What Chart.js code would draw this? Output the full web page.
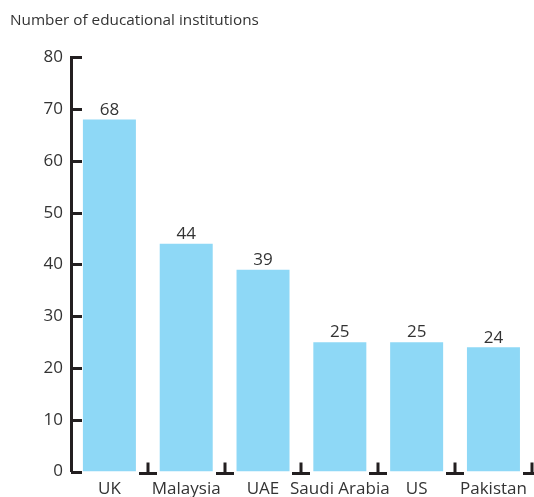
<!DOCTYPE html>
<html>
<head>
<meta charset="utf-8">
<script src="https://cdn.jsdelivr.net/npm/chart.js@4"></script>
<style>
  html, body { margin: 0; padding: 0; background: #fff; }
  #wrap { width: 534px; height: 497px; }
</style>
</head>
<body>
<div id="wrap"><canvas id="barChart" width="534" height="497"></canvas></div>
<script>
const countries = ['UK', 'Malaysia', 'UAE', 'Saudi Arabia', 'US', 'Pakistan'];
const institutions = [68, 44, 39, 25, 25, 24];
const yTicks = [0, 10, 20, 30, 40, 50, 60, 70, 80];

const ink = '#231f20';
const textColor = '#333333';

// tick marks drawn inward on y, and the small ⊥ marks between bars
const axisMarks = {
  id: 'axisMarks',
  afterDatasetsDraw(chart) {
    const ctx = chart.ctx;
    const area = chart.chartArea;
    const y = chart.scales.y;
    const x = chart.scales.x;
    ctx.save();
    ctx.strokeStyle = ink;
    ctx.lineWidth = 3;
    yTicks.forEach(v => {
      const py = Math.round(y.getPixelForValue(v)) + 0.5;
      ctx.beginPath();
      ctx.moveTo(area.left, py);
      ctx.lineTo(area.left + 11, py);
      ctx.stroke();
    });
    const base = Math.round(y.getPixelForValue(0)) + 1.5;
    for (let i = 1; i <= countries.length; i++) {
      const px = Math.round(x.getPixelForValue(i - 0.5));
      ctx.beginPath();
      ctx.moveTo(px - 9, base);
      ctx.lineTo(px + 9, base);
      ctx.moveTo(px, base);
      ctx.lineTo(px, base - 11);
      ctx.stroke();
    }
    // values above bars
    ctx.fillStyle = textColor;
    ctx.font = '17px "Open Sans", sans-serif';
    ctx.textAlign = 'center';
    ctx.textBaseline = 'bottom';
    chart.getDatasetMeta(0).data.forEach((bar, i) => {
      ctx.fillText(String(institutions[i]), bar.x, bar.y - 1);
    });
    ctx.restore();
  }
};

new Chart(document.getElementById('barChart').getContext('2d'), {
  type: 'bar',
  data: {
    labels: countries,
    datasets: [{
      label: 'Number of educational institutions',
      data: institutions,
      backgroundColor: '#8ed8f6',
      borderWidth: 0,
      barPercentage: 0.69,
      categoryPercentage: 1
    }]
  },
  options: {
    responsive: false,
    animation: false,
    layout: { padding: { left: 10, right: 1, top: 11, bottom: -9 } },
    plugins: {
      legend: { display: false },
      tooltip: { enabled: false },
      title: {
        display: true,
        text: 'Number of educational institutions',
        align: 'start',
        color: textColor,
        font: { family: '"Open Sans", sans-serif', size: 15.3, weight: 'normal' },
        padding: { top: 0, bottom: 28 },
        fullSize: true
      }
    },
    scales: {
      x: {
        grid: { display: false, drawTicks: false },
        border: { display: false },
        ticks: {
          color: textColor,
          font: { family: '"Open Sans", sans-serif', size: 17 },
          padding: 7,
          maxRotation: 0,
          autoSkip: false
        }
      },
      y: {
        min: 0,
        max: 80,
        afterBuildTicks: axis => { axis.ticks = yTicks.map(v => ({ value: v })); },
        afterFit: axis => { axis.width = 61; },
        grid: { display: false, drawTicks: false },
        border: { display: true, color: ink, width: 3 },
        ticks: {
          color: textColor,
          font: { family: '"Open Sans", sans-serif', size: 17 },
          padding: 8
        }
      }
    }
  },
  plugins: [axisMarks]
});
</script>
</body>
</html>
